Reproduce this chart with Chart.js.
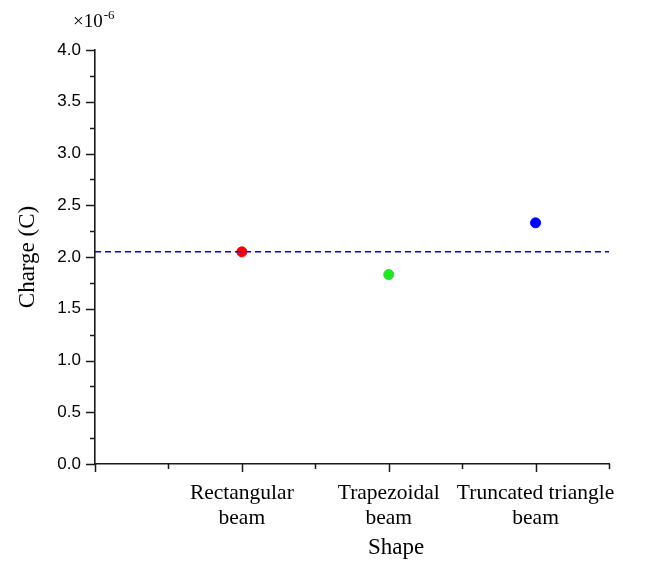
<!DOCTYPE html>
<html>
<head>
<meta charset="utf-8">
<script src="https://cdn.jsdelivr.net/npm/chart.js@4"></script>
<style>
    html, body { margin: 0; padding: 0; background: #fff; }
    #wrap { width: 650px; height: 563px; }
</style>
</head>
<body>
<div id="wrap"><canvas id="chart"></canvas></div>
<script>
// values, charge in units of 1e-6 C
const categoryLines = [["Rectangular", "beam"], ["Trapezoidal", "beam"], ["Truncated triangle", "beam"]];
const categoryPos = [1, 2, 3];
const charges = [2.05, 1.83, 2.33];
const pointColors = ["#ff0000", "#1ee81e", "#0000ff"];
const referenceLevel = 2.05;
const xRange = [0, 3.5];
const yRange = [0, 4];
const exponentText = "-6";
const xTitle = "Shape";

const serif = "'Liberation Serif', 'Times New Roman', serif";
const sans = "'Liberation Sans', Arial, sans-serif";
const axisColor = "#1a1a1a";

// minor + major tick marks drawn outward, Origin style
const tickMarks = {
    id: "tickMarks",
    afterDraw(chart) {
        const ctx = chart.ctx;
        const x = chart.scales.x;
        const y = chart.scales.y;
        ctx.save();
        ctx.strokeStyle = axisColor;
        ctx.lineWidth = 1.5;
        ctx.beginPath();
        for (let v = yRange[0]; v <= yRange[1] + 1e-9; v += 0.25) {
            const py = Math.round(y.getPixelForValue(v)) + 0.5;
            const len = Math.abs(v * 2 - Math.round(v * 2)) < 1e-6 ? 9 : 5;
            ctx.moveTo(x.left - len, py);
            ctx.lineTo(x.left, py);
        }
        for (let v = xRange[0]; v <= xRange[1] + 1e-9; v += 0.5) {
            const px = Math.round(x.getPixelForValue(v)) + 0.5;
            const len = Math.abs(v - Math.round(v)) < 1e-6 ? 8 : 5;
            ctx.moveTo(px, y.bottom);
            ctx.lineTo(px, y.bottom + len);
        }
        ctx.stroke();

        ctx.fillStyle = "#000";
        ctx.textBaseline = "alphabetic";

        // x title sits a bit right of centre in the original
        ctx.textAlign = "center";
        ctx.font = "23px " + serif;
        ctx.fillText(xTitle, (x.left + x.right) / 2 + 44, 554);

        // multiplier above the y axis
        ctx.textAlign = "left";
        ctx.font = "19px " + serif;
        const base = "\u00d710";
        const bx = x.left - 22;
        ctx.fillText(base, bx, 27);
        const w = ctx.measureText(base).width;
        ctx.font = "13px " + serif;
        ctx.fillText(exponentText, bx + w + 1, 19);
        ctx.restore();
    }
};

const scatterData = charges.map((c, i) => ({ x: categoryPos[i], y: c }));

new Chart(document.getElementById("chart"), {
    type: "scatter",
    data: {
        datasets: [
            {
                type: "line",
                data: [{ x: xRange[0], y: referenceLevel }, { x: xRange[1], y: referenceLevel }],
                borderColor: "#0000ff",
                borderWidth: 1.5,
                borderDash: [6, 4],
                pointRadius: 0,
                fill: false
            },
            {
                data: scatterData,
                backgroundColor: pointColors,
                borderColor: pointColors,
                pointRadius: 5,
                pointHoverRadius: 5
            }
        ]
    },
    options: {
        responsive: true,
        maintainAspectRatio: false,
        animation: false,
        events: [],
        layout: { padding: { top: 50, right: 41, left: 0, bottom: 0 } },
        plugins: {
            legend: { display: false },
            tooltip: { enabled: false }
        },
        scales: {
            x: {
                type: "linear",
                min: xRange[0],
                max: xRange[1],
                afterFit: s => { s.height = 99; },
                afterBuildTicks: s => {
                    s.ticks = categoryPos.map(v => ({ value: v }));
                },
                grid: { display: false, drawTicks: false },
                border: { display: true, color: axisColor, width: 1.6 },
                ticks: {
                    color: "#000",
                    padding: 16,
                    maxRotation: 0,
                    autoSkip: false,
                    font: { family: serif, size: 21.5, lineHeight: 1.2 },
                    callback: v => categoryLines[categoryPos.indexOf(v)] || ""
                },
                title: { display: false }
            },
            y: {
                type: "linear",
                min: yRange[0],
                max: yRange[1],
                afterFit: s => { s.width = 95; },
                grid: { display: false, drawTicks: false },
                border: { display: true, color: axisColor, width: 1.6 },
                ticks: {
                    stepSize: 0.5,
                    color: "#000",
                    padding: 14,
                    font: { family: sans, size: 17 },
                    callback: v => v.toFixed(1)
                },
                title: {
                    display: true,
                    text: "Charge (C)",
                    color: "#000",
                    font: { family: serif, size: 23 },
                    padding: { top: 14, bottom: 0 }
                }
            }
        }
    },
    plugins: [tickMarks]
});
</script>
</body>
</html>
